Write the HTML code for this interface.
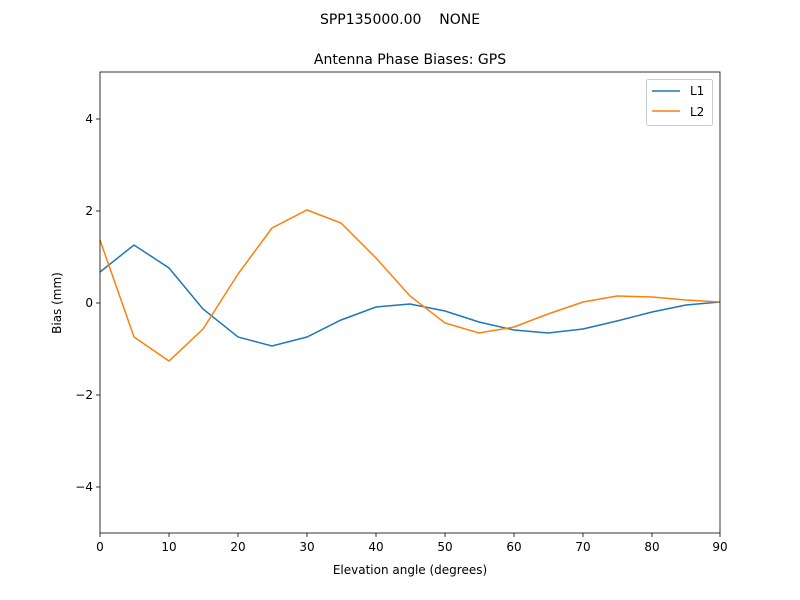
<!DOCTYPE html>
<html><head><meta charset="utf-8"><style>body{margin:0;background:#fff}svg{display:block}text{font-family:"DejaVu Sans","Liberation Sans",sans-serif;fill:#000}</style></head><body>
<svg width="800" height="600" xmlns="http://www.w3.org/2000/svg">
<rect width="800" height="600" fill="#fff"/>
<text x="400" y="24" font-size="14" text-anchor="middle" xml:space="preserve">SPP135000.00    NONE</text>
<text x="410" y="64" font-size="14" text-anchor="middle">Antenna Phase Biases: GPS</text>
<g stroke="#000" stroke-width="0.8">
<line x1="100" y1="533" x2="100" y2="537"/><line x1="169" y1="533" x2="169" y2="537"/><line x1="238" y1="533" x2="238" y2="537"/><line x1="307" y1="533" x2="307" y2="537"/><line x1="376" y1="533" x2="376" y2="537"/><line x1="445" y1="533" x2="445" y2="537"/><line x1="514" y1="533" x2="514" y2="537"/><line x1="583" y1="533" x2="583" y2="537"/><line x1="652" y1="533" x2="652" y2="537"/><line x1="720" y1="533" x2="720" y2="537"/>
<line x1="96" y1="487" x2="100" y2="487"/><line x1="96" y1="395" x2="100" y2="395"/><line x1="96" y1="303" x2="100" y2="303"/><line x1="96" y1="211" x2="100" y2="211"/><line x1="96" y1="119" x2="100" y2="119"/>
</g>
<g font-size="12" text-anchor="middle">
<text x="100" y="551">0</text><text x="169" y="551">10</text><text x="238" y="551">20</text><text x="307" y="551">30</text><text x="376" y="551">40</text><text x="445" y="551">50</text><text x="514" y="551">60</text><text x="583" y="551">70</text><text x="652" y="551">80</text><text x="720" y="551">90</text>
</g>
<g font-size="12" text-anchor="end">
<text x="93" y="491">−4</text><text x="93" y="399">−2</text><text x="93" y="307">0</text><text x="93" y="215">2</text><text x="93" y="123">4</text>
</g>
<text x="410" y="574" font-size="12" text-anchor="middle">Elevation angle (degrees)</text>
<text transform="translate(61,303) rotate(-90)" font-size="12" text-anchor="middle">Bias (mm)</text>
<polyline fill="none" stroke="#1f77b4" stroke-width="1.5" points="100,272 134,245 169,268 203,309 238,337 272,346 307,337 341,320 376,307 410,304 445,311 479,322 514,330 548,333 583,329 617,321 652,312 686,305 720,302"/>
<polyline fill="none" stroke="#ff7f0e" stroke-width="1.5" points="100,240 134,337 169,361 203,329 238,274 272,228 307,210 341,223 376,258 410,296 445,323 479,333 514,327 548,314 583,302 617,296 652,297 686,300 720,302"/>
<rect x="100" y="72" width="620" height="461" fill="none" stroke="#000" stroke-width="0.8"/>
<rect x="646.5" y="79.5" width="66" height="46" rx="2" fill="#fff" fill-opacity="0.8" stroke="#ccc"/>
<line x1="652" y1="91" x2="680" y2="91" stroke="#1f77b4" stroke-width="1.5"/>
<line x1="652" y1="111" x2="680" y2="111" stroke="#ff7f0e" stroke-width="1.5"/>
<text x="690" y="95" font-size="12">L1</text>
<text x="690" y="116" font-size="12">L2</text>
</svg>
</body></html>
